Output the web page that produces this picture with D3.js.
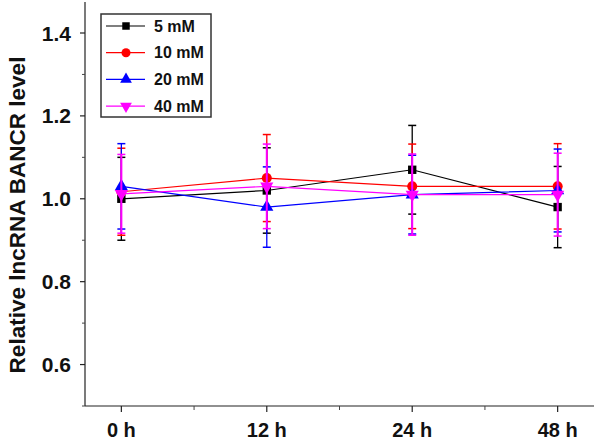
<!DOCTYPE html>
<html><head><meta charset="utf-8">
<script src="https://cdn.jsdelivr.net/npm/d3@7"></script>
<style>body{margin:0;background:#fff}svg{display:block}</style>
</head><body>
<script>
const categories = ["0 h", "12 h", "24 h", "48 h"];
const seriesNames = ["5 mM", "10 mM", "20 mM", "40 mM"];
const mean5 = [1.00, 1.02, 1.07, 0.98];
const err5 = [0.10, 0.103, 0.107, 0.098];
const mean10 = [1.017, 1.05, 1.03, 1.03];
const err10 = [0.105, 0.105, 0.102, 0.103];
const mean20 = [1.03, 0.98, 1.01, 1.02];
const err20 = [0.103, 0.097, 0.095, 0.10];
const mean40 = [1.012, 1.03, 1.01, 1.01];
const err40 = [0.095, 0.102, 0.098, 0.10];
const yTicks = [0.6, 0.8, 1.0, 1.2, 1.4];
const yMinorTicks = [0.5, 0.7, 0.9, 1.1, 1.3];

const colors = ["#000000", "#ff0000", "#0000ff", "#ff00ff"];
const symbols = [d3.symbolSquare, d3.symbolCircle, d3.symbolTriangle, "down"];
const series = seriesNames.map((n, i) => ({
  name: n, color: colors[i], sym: symbols[i],
  mean: [mean5, mean10, mean20, mean40][i],
  err: [err5, err10, err20, err40][i]
}));

const W = 602, H = 442;
const svg = d3.select("body").append("svg").attr("width", W).attr("height", H);
const font = "'Liberation Sans', Arial, sans-serif";

const x = d3.scaleLinear().domain([-0.25, 3.25]).range([85, 594]);
const y = d3.scaleLinear().domain([0.5, 1.4]).range([406, 33]);
const yTop = 1.475;

// Y axis
const yAxis = svg.append("g").attr("transform", "translate(85,0)");
yAxis.append("line").attr("x1", 0).attr("x2", 0).attr("y1", y(yTop)).attr("y2", y(0.5))
  .attr("stroke", "#222").attr("stroke-width", 1.2);
yAxis.selectAll(".maj").data(yTicks).join("line")
  .attr("x1", -5).attr("x2", 0).attr("y1", d => y(d)).attr("y2", d => y(d))
  .attr("stroke", "#222").attr("stroke-width", 1.2);
yAxis.selectAll(".min").data(yMinorTicks).join("line")
  .attr("x1", -3).attr("x2", 0).attr("y1", d => y(d)).attr("y2", d => y(d))
  .attr("stroke", "#444").attr("stroke-width", 1);
yAxis.selectAll("text").data(yTicks).join("text")
  .attr("x", -14).attr("y", d => y(d)).attr("dy", "0.36em")
  .attr("text-anchor", "end").attr("font-family", font).attr("font-weight", "bold")
  .attr("font-size", 21).attr("fill", "#111").text(d => d.toFixed(1));

// X axis
const xAxis = svg.append("g").attr("transform", "translate(0,406)");
xAxis.append("line").attr("x1", x(-0.25)).attr("x2", x(3.25)).attr("y1", 0).attr("y2", 0)
  .attr("stroke", "#222").attr("stroke-width", 1.2);
xAxis.selectAll(".maj").data(categories).join("line")
  .attr("x1", (d, i) => x(i)).attr("x2", (d, i) => x(i)).attr("y1", 0).attr("y2", 6)
  .attr("stroke", "#222").attr("stroke-width", 1.2);
xAxis.selectAll(".min").data([0.5, 1.5, 2.5]).join("line")
  .attr("x1", d => x(d)).attr("x2", d => x(d)).attr("y1", 0).attr("y2", 4)
  .attr("stroke", "#444").attr("stroke-width", 1);
xAxis.selectAll("text").data(categories).join("text")
  .attr("x", (d, i) => x(i)).attr("y", 31).attr("text-anchor", "middle")
  .attr("font-family", font).attr("font-weight", "bold").attr("font-size", 20)
  .attr("fill", "#111").text(d => d);

// Y title
svg.append("text").attr("transform", `translate(25,${215}) rotate(-90)`)
  .attr("text-anchor", "middle").attr("font-family", font).attr("font-weight", "bold")
  .attr("font-size", 22.5).attr("fill", "#111").text("Relative lncRNA BANCR level");

function marker(g, s, cx, cy, scale) {
  const k = scale || 1;
  if (s.sym === "down") {
    g.append("path").attr("d", d3.symbol(d3.symbolTriangle, 75 * k)())
      .attr("transform", `translate(${cx},${cy}) rotate(180)`).attr("fill", s.color);
  } else {
    const size = s.sym === d3.symbolSquare ? 70 : s.sym === d3.symbolCircle ? 80 : 75;
    g.append("path").attr("d", d3.symbol(s.sym, size * k)())
      .attr("transform", `translate(${cx},${cy})`).attr("fill", s.color);
  }
}

const line = d3.line().x((d, i) => x(i)).y(d => y(d));
series.forEach(s => {
  const g = svg.append("g");
  g.append("path").attr("d", line(s.mean)).attr("fill", "none")
    .attr("stroke", s.color).attr("stroke-width", 1.2);
  s.mean.forEach((m, i) => {
    const cx = x(i), top = y(m + s.err[i]), bot = y(m - s.err[i]);
    g.append("line").attr("x1", cx).attr("x2", cx).attr("y1", top).attr("y2", bot)
      .attr("stroke", s.color).attr("stroke-width", s.color === "#ff00ff" ? 2 : 1.3);
    [top, bot].forEach(yy => g.append("line").attr("x1", cx - 4).attr("x2", cx + 4)
      .attr("y1", yy).attr("y2", yy).attr("stroke", s.color).attr("stroke-width", 1.5));
    marker(g, s, cx, y(m));
  });
});

// Legend
const lg = svg.append("g");
lg.append("rect").attr("x", 101).attr("y", 14).attr("width", 110).attr("height", 103)
  .attr("fill", "#fff").attr("stroke", "#333").attr("stroke-width", 1.5);
series.forEach((s, i) => {
  const ly = 26 + i * 26.7;
  lg.append("line").attr("x1", 106).attr("x2", 145).attr("y1", ly).attr("y2", ly)
    .attr("stroke", s.color).attr("stroke-width", 1.2);
  marker(lg, s, 126, ly, 0.8);
  lg.append("text").attr("x", 154).attr("y", ly).attr("dy", "0.36em")
    .attr("font-family", font).attr("font-weight", "bold").attr("font-size", 16)
    .attr("fill", "#111").text(s.name);
});
</script>
</body></html>
